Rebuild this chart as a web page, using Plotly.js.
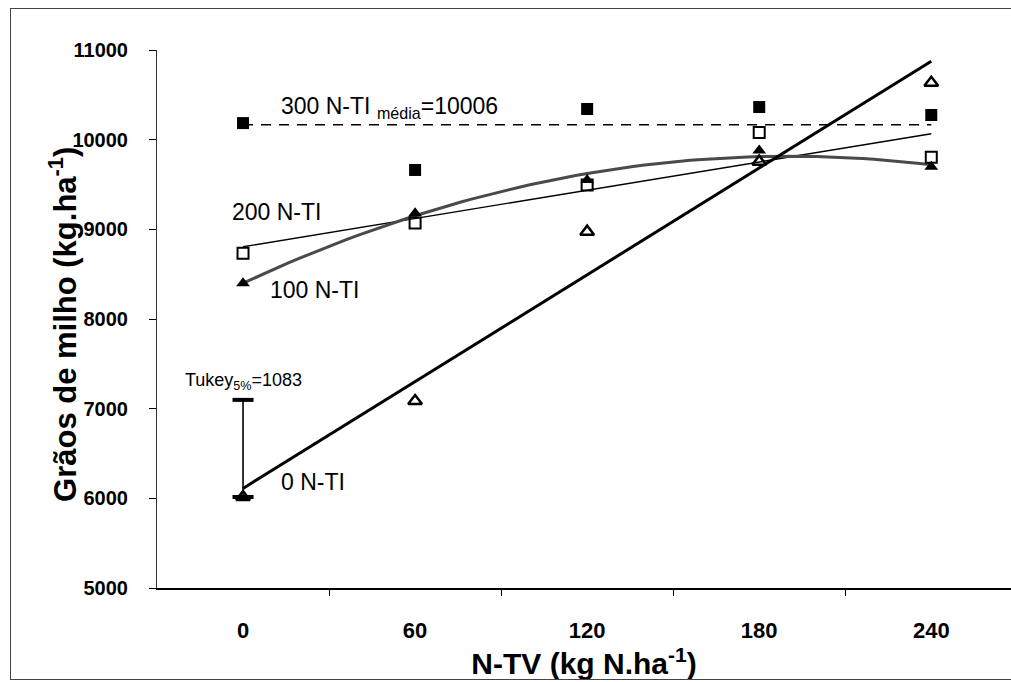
<!DOCTYPE html>
<html><head><meta charset="utf-8">
<script src="https://cdn.plot.ly/plotly-3.0.1.min.js"></script>
<style>
html,body{margin:0;padding:0;background:#fff;overflow:hidden}
#chart{position:absolute;left:0;top:0;width:1011px;height:682px}
#frame{position:absolute;left:10px;top:8px;width:1010px;height:670px;border:1px solid #444;pointer-events:none}
</style></head><body>
<div id="chart"></div><div id="frame"></div>
<script>
// N-TV doses (kg N/ha) and tick labels
const doses = [0, 60, 120, 180, 240];
const tickLabels = ['0', '60', '120', '180', '240'];
const minorTicks = [30, 90, 150, 210];
const yTicks = [5000, 6000, 7000, 8000, 9000, 10000, 11000];
const yTickLabels = ['5000', '6000', '7000', '8000', '9000', '10000', '11000'];
// Grain yield (kg/ha) for each N-TI level
const y300 = [10185, 9662, 10342, 10364, 10275];
const y200 = [8733, 9070, 9494, 10080, 9803];
const y100 = [8398, 9179, 9550, 9880, 9698];
const y0   = [6015, 7085, 8974, 9755, 10635];
// Tukey 5% least significant difference
const tukey = 1083;
const labels = {
  s300: '300 N-TI <sub>média</sub>=10006',
  s200: '200 N-TI',
  s100: '100 N-TI',
  s0: '0 N-TI',
  tukey: 'Tukey<sub>5%</sub>=1083'
};

function polyfit(xs, ys, deg) {
  const n = deg + 1;
  const A = [], b = [];
  for (let i = 0; i < n; i++) {
    A.push([]);
    for (let j = 0; j < n; j++) {
      let s = 0; xs.forEach(x => s += Math.pow(x, i + j)); A[i].push(s);
    }
    let t = 0; xs.forEach((x, k) => t += ys[k] * Math.pow(x, i)); b.push(t);
  }
  for (let c = 0; c < n; c++) {
    let p = c; for (let r = c + 1; r < n; r++) if (Math.abs(A[r][c]) > Math.abs(A[p][c])) p = r;
    [A[c], A[p]] = [A[p], A[c]]; [b[c], b[p]] = [b[p], b[c]];
    for (let r = 0; r < n; r++) if (r !== c) {
      const f = A[r][c] / A[c][c];
      for (let k = c; k < n; k++) A[r][k] -= f * A[c][k];
      b[r] -= f * b[c];
    }
  }
  return b.map((v, i) => v / A[i][i]);
}
function evalPoly(co, x) { return co.reduce((s, c, i) => s + c * Math.pow(x, i), 0); }
function curve(co) {
  const xs = [], ys = [];
  const x0 = doses[0], x1 = doses[doses.length - 1];
  for (let i = 0; i <= 60; i++) { const x = x0 + (x1 - x0) * i / 60; xs.push(x); ys.push(evalPoly(co, x)); }
  return {x: xs, y: ys};
}
const c0 = curve(polyfit(doses, y0, 1));
const c100 = curve(polyfit(doses, y100, 2));
const c200 = curve(polyfit(doses, y200, 1));
const mean300 = y300.reduce((a, b) => a + b, 0) / y300.length;

const traces = [
  {x: [doses[0], doses[doses.length-1]], y: [mean300, mean300], mode: 'lines', line: {color: '#000', width: 1.4, dash: '10px,8px'}},
  {x: c200.x, y: c200.y, mode: 'lines', line: {color: '#000', width: 1.4}},
  {x: c100.x, y: c100.y, mode: 'lines', line: {color: '#4a4a4a', width: 3}},
  {x: c0.x, y: c0.y, mode: 'lines', line: {color: '#000', width: 3}},
  {x: [doses[0], doses[0]], y: [y0[0], y0[0] + tukey], mode: 'lines+markers',
   line: {color: '#000', width: 1.6}, marker: {symbol: 'line-ew', size: 15, line: {color: '#000', width: 4}}},
  {x: doses, y: y300, mode: 'markers', marker: {symbol: 'square', size: 12, color: '#000'}},
  {x: doses, y: y200, mode: 'markers', marker: {symbol: 'square-open', size: 11, color: '#000', line: {width: 2}}},
  {x: doses, y: y100, mode: 'markers', marker: {symbol: 'triangle-up', size: 12, color: '#000'}},
  {x: doses, y: y0, mode: 'markers', marker: {symbol: 'triangle-up-open', size: 12, color: '#000', line: {width: 2.5}}}
];

const F = 'Liberation Sans, Arial, sans-serif';
const ann = (text, x, y, size) => ({text, x, y, xref: 'x', yref: 'y', xanchor: 'left', yanchor: 'middle',
  showarrow: false, font: {family: F, size, color: '#000'}});

const layout = {
  width: 1011, height: 682,
  margin: {l: 157, r: 0, t: 50, b: 94},
  paper_bgcolor: '#fff', plot_bgcolor: '#fff',
  showlegend: false,
  font: {family: F, color: '#000'},
  xaxis: {
    range: [-30, 267.8], tickvals: doses, ticktext: tickLabels, ticks: '',
    tickfont: {family: F, size: 22, weight: 'bold'}, ticklabelstandoff: 22,
    minor: {tickvals: minorTicks, ticks: 'outside', ticklen: 6, tickcolor: '#000', tickwidth: 1},
    showline: true, linecolor: '#000', linewidth: 1.5, showgrid: false, zeroline: false,
    title: {text: 'N-TV (kg N.ha<sup>-1</sup>)', font: {family: F, size: 30, weight: 'bold'}, standoff: 3}
  },
  yaxis: {
    range: [5000, 11000], tickvals: yTicks, ticktext: yTickLabels,
    ticks: 'outside', ticklen: 7, tickcolor: '#000', tickwidth: 1, ticklabelstandoff: 17,
    tickfont: {family: F, size: 20, weight: 'bold'},
    showline: true, linecolor: '#333', linewidth: 1, showgrid: false, zeroline: false
  },
  annotations: [
    ann(labels.s300, 12.4, 10364, 23),
    ann(labels.s200, -4.4, 9190, 23),
    ann(labels.s100, 8.6, 8323, 23),
    ann(labels.s0, 12.4, 6185, 23),
    ann(labels.tukey, -21, 7308, 18),
    {text: 'Grãos de milho (kg.ha<sup>-1</sup>)', textangle: -90, xref: 'paper', yref: 'paper',
     x: -0.11, y: 0.489, xanchor: 'center', yanchor: 'middle', showarrow: false,
     font: {family: F, size: 31, weight: 'bold', color: '#000'}}
  ]
};
Plotly.newPlot('chart', traces, layout, {displayModeBar: false, staticPlot: true});
</script>
</body></html>
